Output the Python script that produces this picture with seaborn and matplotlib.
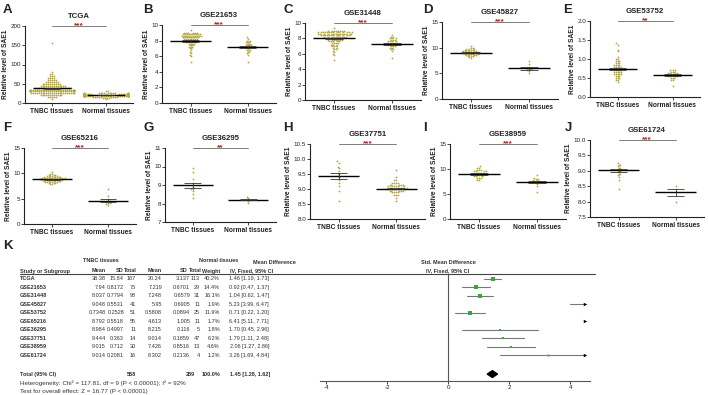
import warnings
import numpy as np
import pandas as pd
import matplotlib
matplotlib.use("Agg")
import matplotlib.pyplot as plt
from matplotlib.transforms import blended_transform_factory
from matplotlib.lines import Line2D
from matplotlib.patches import Polygon
import seaborn as sns

warnings.filterwarnings("ignore")

# ---- data (summary table, panel K) ----
datasets = ["TCGA", "GSE21653", "GSE31448", "GSE45827", "GSE53752",
            "GSE65216", "GSE36295", "GSE37751", "GSE38959", "GSE61724"]
tnbc_mean = [38.38, 7.94, 8.037, 9.048, 0.7348, 8.792, 8.984, 9.444, 9.015, 9.014]
tnbc_sd = [15.84, 0.8172, 0.7794, 0.5531, 0.2528, 0.5518, 0.4997, 0.363, 0.712, 0.2081]
tnbc_n = [167, 75, 98, 41, 51, 55, 11, 14, 30, 16]
normal_mean = [20.24, 7.219, 7.248, 5.95, 0.5808, 4.613, 8.215, 9.014, 7.426, 8.302]
normal_sd = [3.137, 0.6701, 0.6579, 0.6905, 0.0894, 1.005, 0.116, 0.1859, 0.8516, 0.2136]
normal_n = [113, 29, 31, 11, 25, 11, 5, 47, 13, 4]
weights = [40.2, 14.4, 16.1, 1.9, 11.9, 1.7, 1.8, 6.2, 4.6, 1.2]
smd = [1.46, 0.92, 1.04, 5.23, 0.71, 6.41, 1.70, 1.79, 2.06, 3.26]
smd_lo = [1.19, 0.47, 0.62, 3.99, 0.22, 5.11, 0.45, 1.11, 1.27, 1.69]
smd_hi = [1.73, 1.37, 1.47, 6.47, 1.20, 7.71, 2.96, 2.48, 2.86, 4.84]
total_smd, total_lo, total_hi = 1.45, 1.28, 1.62
sig_labels = ["***", "***", "***", "***", "**", "***", "**", "***", "***", "***"]

a_tnbc = [(155, 1), (80, 1), (75, 2), (70, 3), (65, 4), (60, 5), (55, 7), (50, 10), (45, 14),
          (40, 20), (35, 28), (30, 30), (25, 24), (20, 12), (15, 5), (10, 1)]
a_normal = [(30, 2), (27, 5), (25, 10), (23, 18), (21, 24), (19, 24), (17, 16), (15, 9), (13, 4), (10, 1)]
b_tnbc = [(9.4, 1), (9.0, 6), (8.8, 10), (8.6, 10), (8.4, 9), (8.2, 8), (8.0, 7), (7.8, 6), (7.6, 4),
          (7.4, 3), (7.2, 3), (7.0, 2), (6.8, 1), (6.6, 1), (6.4, 1), (6.2, 1), (6.0, 1), (5.2, 1)]
b_normal = [(8.4, 1), (8.2, 1), (8.0, 2), (7.8, 3), (7.6, 3), (7.4, 4), (7.2, 4), (7.0, 3), (6.8, 3),
            (6.6, 2), (6.4, 1), (6.2, 1), (5.3, 1)]
c_tnbc = [(9.3, 1), (9.0, 8), (8.8, 14), (8.6, 14), (8.4, 12), (8.2, 10), (8.0, 8), (7.8, 7), (7.6, 5),
          (7.4, 4), (7.2, 3), (7.0, 3), (6.8, 2), (6.6, 2), (6.4, 1), (6.2, 1), (6.0, 1), (5.8, 1), (5.2, 1)]
c_normal = [(8.4, 1), (8.2, 2), (8.0, 3), (7.8, 3), (7.6, 4), (7.4, 5), (7.2, 4), (7.0, 3), (6.8, 2),
            (6.6, 2), (6.4, 1), (5.4, 1)]
d_tnbc = [(10.4, 1), (10.0, 2), (9.8, 3), (9.6, 4), (9.4, 5), (9.2, 6), (9.0, 6), (8.8, 5), (8.6, 4),
          (8.4, 3), (8.2, 1), (8.0, 1)]
d_normal = [(7.4, 1), (6.9, 1), (6.2, 1), (6.0, 3), (5.8, 2), (5.6, 1), (5.4, 1), (5.0, 1)]
e_tnbc = [(1.42, 1), (1.38, 1), (1.25, 1), (1.2, 1), (1.05, 1), (1.0, 2), (0.95, 3), (0.9, 3), (0.85, 4),
          (0.8, 5), (0.75, 5), (0.7, 5), (0.65, 5), (0.6, 5), (0.55, 3), (0.5, 3), (0.45, 2), (0.4, 1)]
e_normal = [(0.72, 1), (0.7, 2), (0.66, 3), (0.62, 4), (0.58, 5), (0.54, 4), (0.5, 3), (0.45, 2), (0.3, 1)]
f_tnbc = [(10.3, 1), (9.8, 2), (9.6, 3), (9.4, 4), (9.2, 6), (9.0, 8), (8.8, 8), (8.6, 7), (8.4, 6),
          (8.2, 5), (8.0, 3), (7.8, 2)]
f_normal = [(7.0, 1), (5.6, 1), (5.0, 1), (4.6, 2), (4.4, 2), (4.2, 2), (4.0, 1), (3.8, 1)]
g_tnbc = [(9.9, 1), (9.7, 1), (9.3, 1), (9.1, 1), (9.0, 1), (8.9, 1), (8.8, 2), (8.7, 1), (8.5, 1), (8.3, 1)]
g_normal = [(8.35, 1), (8.3, 1), (8.2, 1), (8.15, 1), (8.05, 1)]
h_tnbc = [(9.92, 1), (9.88, 1), (9.75, 1), (9.7, 1), (9.6, 1), (9.55, 1), (9.5, 1), (9.45, 1), (9.4, 1),
          (9.3, 1), (9.2, 1), (9.1, 1), (8.95, 1), (8.6, 1)]
h_normal = [(9.65, 1), (9.4, 1), (9.3, 2), (9.2, 4), (9.15, 5), (9.1, 6), (9.05, 7), (9.0, 7), (8.95, 5),
            (8.9, 4), (8.8, 3), (8.7, 1), (8.6, 1)]
i_tnbc = [(10.5, 1), (10.2, 2), (9.8, 3), (9.5, 4), (9.2, 4), (9.0, 4), (8.8, 4), (8.5, 3), (8.2, 3), (7.8, 2)]
i_normal = [(8.7, 1), (8.2, 1), (8.0, 2), (7.7, 2), (7.5, 2), (7.3, 2), (7.0, 1), (6.6, 1), (5.3, 1)]
j_tnbc = [(9.25, 1), (9.2, 2), (9.15, 1), (9.1, 2), (9.05, 1), (9.0, 2), (8.95, 1), (8.9, 2), (8.85, 1),
          (8.8, 1), (8.7, 1), (8.4, 1)]
j_normal = [(8.5, 1), (8.4, 1), (8.3, 1), (8.0, 1)]

tnbc_points = [a_tnbc, b_tnbc, c_tnbc, d_tnbc, e_tnbc, f_tnbc, g_tnbc, h_tnbc, i_tnbc, j_tnbc]
normal_points = [a_normal, b_normal, c_normal, d_normal, e_normal, f_normal, g_normal, h_normal, i_normal, j_normal]

y_limits = [(0, 200), (0, 10), (0, 10), (0, 15), (0, 2), (0, 15), (7, 11), (8, 10.5), (0, 15), (7.5, 10)]
y_ticks = [[0, 50, 100, 150, 200], [0, 2, 4, 6, 8, 10], [0, 2, 4, 6, 8, 10], [0, 5, 10, 15],
           [0.0, 0.5, 1.0, 1.5, 2.0], [0, 5, 10, 15], [7, 8, 9, 10, 11],
           [8.0, 8.5, 9.0, 9.5, 10.0, 10.5], [0, 5, 10, 15], [7.5, 8.0, 8.5, 9.0, 9.5, 10.0]]
one_decimal = [False, False, False, False, True, False, False, True, False, True]
groups = ["TNBC tissues", "Normal tissues"]

# ---- layout (pixels: left, top, right, bottom) ----
W, H = 708, 395
panel_rects = [(25, 26, 133, 103), (162, 25, 276, 103), (305, 23, 421, 100), (442, 22, 558, 99),
               (590, 21, 700, 97), (24, 148, 136, 224), (165, 148, 276, 222), (310, 144, 425, 219),
               (450, 144, 566, 219), (590, 140, 704, 217)]
letter_pos = [(3, 10), (143, 10), (283, 10), (423, 10), (563, 10),
              (3, 128), (143, 128), (283, 128), (423, 128), (565, 128)]


def px_rect(l, t, r, b):
    return [l / W, 1 - b / H, (r - l) / W, (b - t) / H]


def expand(pairs):
    vals = []
    for v, c in pairs:
        vals += [v] * c
    return vals


sns.set_theme(style="ticks")
plt.rcParams['font.family'] = ['Liberation Sans', 'DejaVu Sans']
dot_color = "#b5a642"
ink = "#222222"

fig = plt.figure(figsize=(W / 100, H / 100), dpi=100)

for i in range(10):
    ax = fig.add_axes(px_rect(*panel_rects[i]))
    tv = expand(tnbc_points[i])
    nv = expand(normal_points[i])
    df = pd.DataFrame({"group": [groups[0]] * len(tv) + [groups[1]] * len(nv), "level": tv + nv})
    ax.set_ylim(*y_limits[i])
    ax.set_xlim(-0.5, 1.5)
    sns.swarmplot(data=df, x="group", y="level", order=groups, color=dot_color,
                  size=1.3, linewidth=0, ax=ax, zorder=2)
    ax.set_xlim(-0.5, 1.5)
    ax.set_ylim(*y_limits[i])
    # mean and SEM
    for k, (m, s, n) in enumerate([(tnbc_mean[i], tnbc_sd[i], tnbc_n[i]),
                                   (normal_mean[i], normal_sd[i], normal_n[i])]):
        sem = s / np.sqrt(n)
        ax.hlines(m, k - 0.36, k + 0.36, color="black", lw=1.0, zorder=5)
        ax.vlines(k, m - sem, m + sem, color="#333333", lw=0.6, zorder=5)
        ax.hlines([m - sem, m + sem], k - 0.15, k + 0.15, color="#333333", lw=0.6, zorder=5)
    # significance bar
    top = y_limits[i][1]
    ax.plot([0, 1], [top, top], color="#666666", lw=0.6, clip_on=False, zorder=6)
    ax.text(0.5, top, sig_labels[i], color="#b22222", ha="center", va="center",
            fontsize=6, fontweight="bold", zorder=7)
    ax.set_yticks(y_ticks[i])
    if one_decimal[i]:
        ax.set_yticklabels([f"{t:.1f}" for t in y_ticks[i]])
    else:
        ax.set_yticklabels([f"{t:g}" for t in y_ticks[i]])
    ax.set_xlabel("")
    ax.set_ylabel("Relative level of SAE1", fontsize=4.8, fontweight="bold", labelpad=1, color=ink)
    ax.set_xticks([0, 1])
    ax.set_xticklabels(groups, fontsize=4.8, fontweight="bold", color=ink)
    ax.tick_params(axis="y", labelsize=4.5, length=2, width=0.6, pad=0.8, colors=ink)
    ax.tick_params(axis="x", length=2, width=0.6, pad=1.5)
    for sp in ["top", "right"]:
        ax.spines[sp].set_visible(False)
    for sp in ["left", "bottom"]:
        ax.spines[sp].set_linewidth(0.8)
        ax.spines[sp].set_color(ink)
    ax.set_title(datasets[i], fontsize=5.6, fontweight="bold", pad=6, color=ink)
    lx, ly = letter_pos[i]
    fig.text(lx / W, 1 - ly / H, "ABCDEFGHIJ"[i], fontsize=9.5, fontweight="bold",
             ha="left", va="center", color=ink)

# ---- panel K: forest plot ----
fig.text(3 / W, 1 - 246 / H, "K", fontsize=9.5, fontweight="bold", ha="left", va="center", color=ink)

axk = fig.add_axes(px_rect(320, 274, 590, 381))
axk.set_xlim(-4.2, 4.65)
axk.set_ylim(12.07, -0.59)
clip = 4.5
green = "#3aa53a"
for r in range(10):
    lo, hi = smd_lo[r], smd_hi[r]
    if lo < clip:
        axk.plot([lo, min(hi, clip)], [r, r], color="#777777", lw=0.8, zorder=2)
    if hi > clip:
        axk.plot([clip], [r], marker=">", color="black", ms=2.5, mew=0, zorder=3)
    if smd[r] < clip:
        axk.plot([smd[r]], [r], marker="s", color=green, mew=0,
                 ms=1.0 + 2.2 * np.sqrt(weights[r] / 40.2), zorder=3)
total_y = 11.25
axk.add_patch(Polygon([[total_lo, total_y], [total_smd, total_y - 0.4],
                       [total_hi, total_y], [total_smd, total_y + 0.4]],
                      closed=True, color="black", zorder=3))
axk.axvline(0, color="#555555", lw=0.8, zorder=1)
axk.set_xticks([-4, -2, 0, 2, 4])
axk.set_xticklabels(["-4", "-2", "0", "2", "4"])
axk.set_yticks([])
axk.tick_params(axis="x", labelsize=4.5, length=2, width=0.6, pad=1, colors=ink)
for sp in ["top", "right", "left"]:
    axk.spines[sp].set_visible(False)
axk.spines["bottom"].set_linewidth(0.8)
axk.spines["bottom"].set_color("#555555")
axk.patch.set_alpha(0)

fig.add_artist(Line2D([20 / W, 595 / W], [1 - 274 / H, 1 - 274 / H], color="#444444", lw=0.8))

tr = blended_transform_factory(fig.transFigure, axk.transData)
fs = 4.0
fs_note = 4.5
txt = "#333333"


def fx(p):
    return p / W


def fy(p):
    return 1 - p / H


# header rows
fig.text(fx(101), fy(261), "TNBC tissues", fontsize=fs, fontweight="bold", ha="center", va="center", color=txt)
fig.text(fx(219), fy(261), "Normal tissues", fontsize=fs, fontweight="bold", ha="center", va="center", color=txt)
fig.text(fx(274), fy(263), "Mean Difference", fontsize=fs, fontweight="bold", ha="center", va="center", color=txt)
fig.text(fx(448), fy(263), "Std. Mean Difference", fontsize=fs, fontweight="bold", ha="center", va="center", color=txt)
fig.text(fx(448), fy(271), "IV, Fixed, 95% CI", fontsize=fs, fontweight="bold", ha="center", va="center", color=txt)
fig.text(fx(20), fy(271), "Study or Subgroup", fontsize=fs, fontweight="bold", ha="left", va="center", color=txt)
header_cols = [("Mean", 106), ("SD", 124), ("Total", 137), ("Mean", 162), ("SD", 188),
               ("Total", 202), ("Weight", 220)]
for label, xr in header_cols:
    fig.text(fx(xr), fy(271), label, fontsize=fs, fontweight="bold", ha="right", va="center", color=txt)
fig.text(fx(252), fy(271), "IV, Fixed, 95% CI", fontsize=fs, fontweight="bold", ha="center", va="center", color=txt)

# study rows
for r in range(10):
    cells = [(f"{tnbc_mean[r]:g}", 106), (f"{tnbc_sd[r]:g}", 124), (f"{tnbc_n[r]}", 136),
             (f"{normal_mean[r]:g}", 162), (f"{normal_sd[r]:g}", 190), (f"{normal_n[r]}", 200),
             (f"{weights[r]:.1f}%", 220), (f"{smd[r]:.2f} [{smd_lo[r]:.2f}, {smd_hi[r]:.2f}]", 269)]
    axk.text(fx(20), r, datasets[r], transform=tr, fontsize=fs, fontweight="bold",
             ha="left", va="center", color=txt)
    for s, xr in cells:
        axk.text(fx(xr), r, s, transform=tr, fontsize=fs, ha="right", va="center", color=txt)

# total row
axk.text(fx(20), total_y, "Total (95% CI)", transform=tr, fontsize=fs, fontweight="bold",
         ha="left", va="center", color=txt)
total_cells = [(f"{sum(tnbc_n)}", 136), (f"{sum(normal_n)}", 195), ("100.0%", 220),
               (f"{total_smd:.2f} [{total_lo:.2f}, {total_hi:.2f}]", 270)]
for s, xr in total_cells:
    axk.text(fx(xr), total_y, s, transform=tr, fontsize=fs, fontweight="bold",
             ha="right", va="center", color=txt)
fig.text(fx(20), fy(383), "Heterogeneity: Chi\u00b2 = 117.81, df = 9 (P < 0.00001); I\u00b2 = 92%",
         fontsize=fs_note, ha="left", va="center", color=txt)
fig.text(fx(20), fy(391), "Test for overall effect: Z = 16.77 (P < 0.00001)",
         fontsize=fs_note, ha="left", va="center", color=txt)

fig.savefig("out.png", dpi=100)
